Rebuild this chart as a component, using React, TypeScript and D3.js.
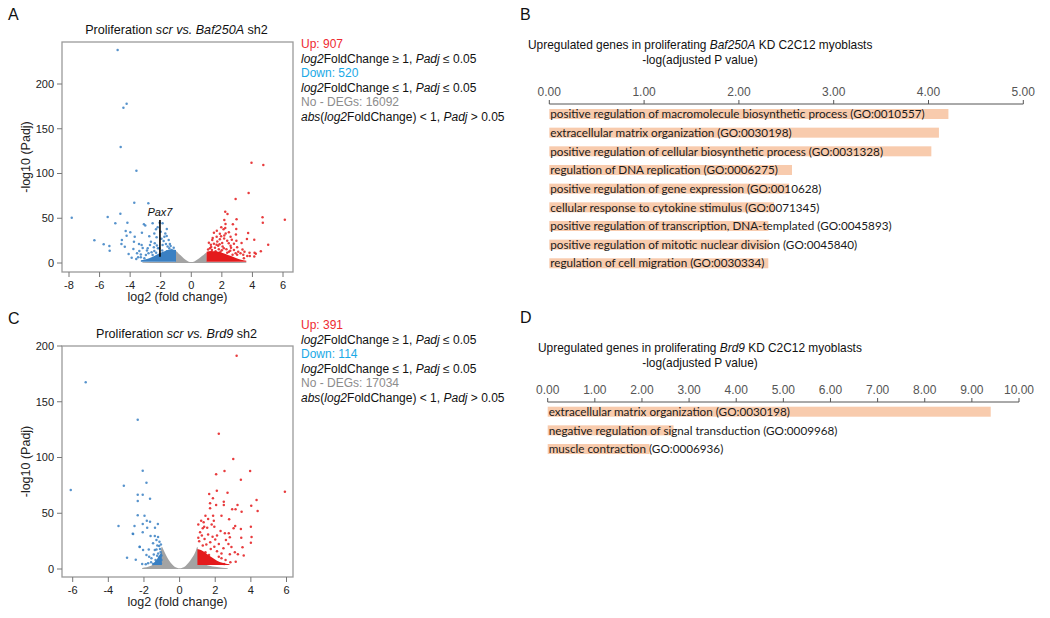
import * as d3 from 'd3'

const SANS = '"Liberation Sans", Arial, sans-serif'
const GO_FONT = 'Lato, "Open Sans", sans-serif'
const RED = '#e41a1c'
const BLUE = '#3a80c3'
const GREY = '#a3a3a3'
const BAR = '#f8cbad'

// ---- panel A: Baf250A sh2 volcano ----
const downA: [number, number][] = [
  [-4.82, 238], [-4.23, 178], [-4.44, 173.5], [-4.62, 129.6], [-3.59, 103], [-3.73, 67.4], [-2.81, 66.7],
  [-7.82, 50.6], [-5.47, 51.4], [-4.64, 55], [-4.97, 44.3], [-4.18, 45], [-3.1, 43.2], [-6.34, 25.3],
  [-5.73, 20.9], [-5.36, 19], [-5.34, 13.7], [-4.29, 35.8], [-4.23, 30.5], [-4.54, 25.7], [-4.35, 18.2],
  [-4.57, 21.2], [-3.99, 34.3], [-3.7, 29.4], [-3.75, 23.8], [-3.79, 15.6], [-3.42, 21.2], [-3.18, 16.7],
  [-3.48, 6.3], [-3.25, 20], [-3.01, 42], [-3.23, 33.9], [-3.4, 13.5], [-2.97, 8.9], [-3.3, 6.3],
  [-2.8, 10.8], [-2.64, 23.8], [-2.42, 33.1], [-2.53, 44.3], [-2.07, 45], [-1.88, 44.3], [-1.61, 30.1],
  [-1.76, 29.4], [-1.48, 25.7], [-2.27, 28.7], [-2.39, 22], [-2.85, 16.4], [-2.7, 20], [-2.18, 16.4],
  [-1.88, 20], [-1.66, 21.2], [-1.4, 21.2], [-1.44, 16.4], [-2.42, 13.5], [-2.53, 8.9], [-3.07, 5.2],
  [-2.31, 37.6], [-1.81, 24.5], [-2.1, 16.4], [-1.29, 14.5], [-1.55, 18.5], [-1.95, 27], [-2.25, 19.5],
  [-1.7, 33], [-2.0, 35], [-1.35, 19], [-1.15, 17], [-2.6, 12], [-2.9, 14], [-3.6, 4.5], [-3.9, 6],
  [-3.3, 9.5], [-2.75, 30], [-1.6, 38], [-2.2, 40], [-4.1, 10], [-3.55, 11], [-2.45, 17.5], [-1.9, 14],
  [-1.6, 13.2], [-2.3, 11.5],
]
const upA: [number, number][] = [
  [3.94, 112], [4.71, 109.5], [3.75, 78.2], [2.9, 71.5], [2.22, 57.3], [2.37, 54.7], [2.96, 48.8], [2.16, 48],
  [4.66, 51], [4.68, 45], [6.12, 48.4], [2.72, 43.2], [1.96, 39.9], [2.22, 39.1], [2.11, 37.6], [1.67, 36.1],
  [2.46, 34.3], [1.87, 32.8], [2.94, 38], [3.72, 33.5], [2.16, 30.7], [2.92, 31.8], [4.12, 26], [3.64, 26.8],
  [5.03, 20.5], [3.29, 22.3], [4.55, 13], [3.81, 11.5], [4.14, 11.5], [4.22, 10.4], [4.12, 7.4], [3.83, 7.8],
  [3.4, 9.3], [3.44, 5.2], [3.07, 12.7], [3.0, 9.3], [1.48, 33.9], [1.66, 29.4], [1.37, 25.7], [2.57, 29.4],
  [2.35, 25], [2.02, 22.3], [1.76, 19.3], [2.57, 19.3], [2.79, 21.6], [1.48, 21.6], [1.22, 16.4], [2.13, 16.4],
  [2.79, 14.5], [2.46, 12.7], [3.22, 10.8], [2.7, 9.3], [1.87, 26.4], [1.15, 22.7], [2.24, 43.5], [1.91, 12.7],
  [1.59, 13], [2.35, 11.5], [3.48, 12.7], [3.66, 7.8], [1.3, 18], [1.55, 17], [1.8, 15.5], [2.05, 18.5],
  [2.3, 15.5], [1.4, 28], [1.7, 24], [2.45, 22], [2.65, 26], [1.1, 15], [1.95, 30], [2.25, 33], [2.6, 17],
  [3.0, 17.5], [1.35, 14.5], [2.9, 11], [1.65, 20.5], [2.15, 27.5], [2.95, 25], [3.35, 15], [2.0, 14.2],
  [1.85, 21], [1.28, 20.5], [2.55, 13.8],
]
// upper edge of the densely packed point clouds: [log2FC, -log10 padj]
const greyCloudA: [number, number][] = [
  [-3.2, 0.8], [-2.0, 1.3], [-1.03, 1.5], [-1.0, 13], [-0.8, 10], [-0.6, 7], [-0.4, 4], [-0.2, 1.8],
  [0, 1], [0.2, 1.8], [0.4, 4], [0.6, 6.5], [0.8, 9], [1.0, 11.5], [1.03, 1.5], [2.6, 1.3], [3.6, 0.8],
]
const downDenseA: [number, number][] = [
  [-3.3, 3], [-2.9, 4.5], [-2.6, 6.5], [-2.3, 9], [-2.0, 11.5], [-1.7, 13.5], [-1.4, 15], [-1.2, 15], [-1.0, 14.5],
]
const upDenseA: [number, number][] = [
  [1.0, 12.5], [1.3, 13.5], [1.6, 13], [2.0, 11.5], [2.4, 9], [2.8, 6.5], [3.2, 4], [3.6, 2.5],
]
const pax7: [number, number, number] = [-2.05, 7, 48]

// ---- panel C: Brd9 sh2 volcano ----
const downC: [number, number][] = [
  [-5.27, 167.4], [-6.11, 70.8], [-2.35, 133.9], [-2.07, 88.2], [-3.13, 74.7], [-1.86, 77.4], [-2.35, 66.6],
  [-2.07, 66.6], [-2.35, 61], [-1.66, 63], [-2.35, 48.1], [-1.97, 47.8], [-3.43, 38.6], [-2.53, 38.6],
  [-2.07, 40.4], [-1.84, 43.3], [-1.66, 42.3], [-1.22, 40.4], [-1.82, 37], [-1.38, 37], [-2.63, 31.7],
  [-2.07, 32.9], [-1.63, 29.6], [-2.24, 19.7], [-1.73, 17.6], [-2.46, 8.3], [-2.95, 10.1], [-2.61, 31.4],
  [-2.24, 20], [-2.05, 17], [-1.71, 11], [-1.49, 23], [-1.3, 26], [-1.39, 29.6], [-1.21, 28.7],
  [-1.15, 20.6], [-1.39, 17], [-1.86, 12.6], [-1.58, 9.6], [-1.3, 6.6], [-1.02, 8], [-1.07, 15.2],
  [-1.77, 5.1], [-1.49, 4.5], [-1.26, 11.9], [-1.13, 24.5], [-1.02, 12], [-1.1, 18], [-1.2, 14],
  [-1.05, 5], [-1.35, 8], [-1.15, 10], [-1.45, 13], [-1.25, 21], [-1.6, 6], [-2.1, 4.5], [-1.9, 4.2],
  [-1.05, 22], [-1.3, 17.5],
]
const upC: [number, number][] = [
  [3.2, 191.3], [2.2, 121.4], [3.01, 98.7], [2.05, 84.9], [2.52, 87.9], [3.96, 87.9], [3.44, 80.1], [5.91, 69.3],
  [1.66, 67.3], [2.09, 70.2], [2.69, 68.4], [4.32, 61.9], [1.87, 63.4], [2.48, 60.4], [2.48, 57.4], [1.71, 58.9],
  [2.05, 57.4], [3.25, 57.4], [4.02, 56.8], [4.38, 52], [3.48, 51.4], [3.14, 53.5], [2.95, 53.5], [1.71, 54.4],
  [1.45, 47.8], [1.88, 47.8], [2.35, 47.8], [2.78, 44.6], [1.21, 43.3], [1.6, 44.8], [1.92, 43.3], [1.38, 38],
  [1.55, 37], [1.3, 36.5], [1.8, 40], [1.95, 38], [3.12, 38.6], [3.03, 36.5], [3.44, 35.9], [4.0, 38],
  [2.76, 32], [2.82, 28.4], [2.54, 32], [3.46, 28.1], [4.04, 28.7], [4.0, 23.6], [3.53, 19.5], [3.27, 13.2],
  [2.82, 13.2], [2.58, 8], [2.35, 9.6], [2.91, 19.7], [2.46, 18.5], [2.74, 22.4], [2.0, 26.5], [2.2, 22.4],
  [1.72, 24], [1.25, 30], [1.4, 27], [1.1, 25], [1.6, 31], [1.85, 29], [1.5, 22], [1.3, 21], [1.75, 18],
  [2.1, 16], [2.35, 14], [1.15, 33], [1.45, 15], [1.95, 20], [2.6, 26], [2.3, 34], [2.1, 30], [3.1, 15],
  [3.6, 12], [2.85, 6], [3.15, 6.5], [2.5, 4.5], [1.05, 28], [1.65, 12.5], [2.2, 11], [1.35, 42], [1.05, 40],
]
const greyCloudC: [number, number][] = [
  [-2.1, 1], [-1.6, 3], [-1.3, 5.5], [-1.1, 11], [-1.0, 20], [-0.9, 17], [-0.7, 10.5], [-0.5, 5.5], [-0.3, 2.2],
  [0, 0.6], [0.3, 2.2], [0.5, 5.5], [0.7, 10], [0.9, 16], [1.0, 20], [1.1, 6], [1.6, 3.2], [2.1, 1.8], [2.7, 0.6],
]
const downDenseC: [number, number][] = [[-1.5, 5], [-1.3, 8], [-1.15, 12], [-1.0, 15]]
const upDenseC: [number, number][] = [
  [1.0, 18], [1.2, 17], [1.5, 14], [1.8, 10.5], [2.1, 7.5], [2.4, 5.5], [2.8, 4.2],
]

// ---- GO enrichment bars ----
const termsB = [
  'positive regulation of macromolecule biosynthetic process (GO:0010557)',
  'extracellular matrix organization (GO:0030198)',
  'positive regulation of cellular biosynthetic process (GO:0031328)',
  'regulation of DNA replication (GO:0006275)',
  'positive regulation of gene expression (GO:0010628)',
  'cellular response to cytokine stimulus (GO:0071345)',
  'positive regulation of transcription, DNA-templated (GO:0045893)',
  'positive regulation of mitotic nuclear division (GO:0045840)',
  'regulation of cell migration (GO:0030334)',
]
const valuesB = [4.21, 4.11, 4.03, 2.56, 2.53, 2.37, 2.31, 2.32, 2.31]
const ticksB = [0, 1, 2, 3, 4, 5]

const termsD = [
  'extracellular matrix organization (GO:0030198)',
  'negative regulation of signal transduction (GO:0009968)',
  'muscle contraction (GO:0006936)',
]
const valuesD = [9.4, 2.67, 2.16]
const ticksD = [0, 1, 2, 3, 4, 5, 6, 7, 8, 9, 10]

type Pt = [number, number]
type Part = { t: string; i?: boolean }

const Parts = ({ parts }: { parts: Part[] }) => (
  <>
    {parts.map((p, k) => (
      <tspan key={k} fontStyle={p.i ? 'italic' : 'normal'}>{p.t}</tspan>
    ))}
  </>
)

interface VolcanoProps {
  label: string
  title: Part[]
  box: { x0: number; x1: number; y0: number; y1: number }
  xDomain: [number, number]
  xRange: [number, number]
  yRange: [number, number]
  xTicks: number[]
  up: Pt[]
  down: Pt[]
  grey: Pt[]
  upDense: Pt[]
  downDense: Pt[]
  denseBase: number
  counts: [number, number, number]
  legendTop: number
  marker?: [number, number, number]
}

const Volcano = (p: VolcanoProps) => {
  const { box } = p
  const x = d3.scaleLinear().domain(p.xDomain).range(p.xRange)
  const y = d3.scaleLinear().domain([0, 200]).range(p.yRange)
  const yTicks = [0, 50, 100, 150, 200]
  const area = (base: number) =>
    d3.area<Pt>().x(d => x(d[0])).y0(y(base)).y1(d => y(d[1])).curve(d3.curveMonotoneX)
  const cx = (box.x0 + box.x1) / 2
  const cy = (box.y0 + box.y1) / 2
  const legend: { parts: Part[]; color: string }[] = [
    { parts: [{ t: `Up: ${p.counts[0]}` }], color: '#ee2a31' },
    { parts: [{ t: 'log2', i: true }, { t: 'FoldChange ≥ 1, ' }, { t: 'Padj', i: true }, { t: ' ≤ 0.05' }], color: '#111' },
    { parts: [{ t: `Down: ${p.counts[1]}` }], color: '#1aa9e6' },
    { parts: [{ t: 'log2', i: true }, { t: 'FoldChange ≤ 1, ' }, { t: 'Padj', i: true }, { t: ' ≤ 0.05' }], color: '#111' },
    { parts: [{ t: `No - DEGs: ${p.counts[2]}` }], color: '#8c8c8c' },
    { parts: [{ t: 'abs', i: true }, { t: '(' }, { t: 'log2', i: true }, { t: 'FoldChange) < 1, ' }, { t: 'Padj', i: true }, { t: ' > 0.05' }], color: '#111' },
  ]
  return (
    <g fontFamily={SANS}>
      <text x={8} y={box.y0 - 22} fontSize={16} fill="#111">{p.label}</text>
      <text x={cx - 1} y={box.y0 - 8} fontSize={12.6} textAnchor="middle" fill="#111">
        <Parts parts={p.title} />
      </text>
      <path d={area(0)(p.grey) ?? ''} fill={GREY} />
      <path d={area(p.denseBase)(p.downDense) ?? ''} fill={BLUE} />
      <path d={area(p.denseBase)(p.upDense) ?? ''} fill={RED} />
      {p.down.map((d, k) => (
        <circle key={`d${k}`} cx={x(d[0])} cy={y(d[1])} r={1.25} fill={BLUE} opacity={0.85} />
      ))}
      {p.up.map((d, k) => (
        <circle key={`u${k}`} cx={x(d[0])} cy={y(d[1])} r={1.25} fill={RED} opacity={0.85} />
      ))}
      {p.marker && (
        <g>
          <line x1={x(p.marker[0])} x2={x(p.marker[0])} y1={y(p.marker[1])} y2={y(p.marker[2])} stroke="#000" strokeWidth={1.6} />
          <text x={x(p.marker[0])} y={y(p.marker[2]) - 4} fontSize={11} fontStyle="italic" textAnchor="middle" fill="#111">Pax7</text>
        </g>
      )}
      <rect x={box.x0} y={box.y0} width={box.x1 - box.x0} height={box.y1 - box.y0} fill="none" stroke="#9a9a9a" strokeWidth={1.3} />
      {p.xTicks.map(t => (
        <g key={`x${t}`}>
          <line x1={x(t)} x2={x(t)} y1={box.y1} y2={box.y1 + 5} stroke="#777" />
          <text x={x(t)} y={box.y1 + 17} fontSize={11} textAnchor="middle" fill="#222">{t}</text>
        </g>
      ))}
      {yTicks.map(t => (
        <g key={`y${t}`}>
          <line x1={box.x0 - 5} x2={box.x0} y1={y(t)} y2={y(t)} stroke="#777" />
          <text x={box.x0 - 8} y={y(t)} dy="0.35em" fontSize={11} textAnchor="end" fill="#222">{t}</text>
        </g>
      ))}
      <text x={cx} y={box.y1 + 29} fontSize={12.5} textAnchor="middle" fill="#222">log2 (fold change)</text>
      <text transform={`translate(30,${cy}) rotate(-90)`} fontSize={12.5} textAnchor="middle" fill="#222">-log10 (Padj)</text>
      {legend.map((l, k) => (
        <text key={`l${k}`} x={301} y={p.legendTop + k * 14.5} fontSize={12} fill={l.color}>
          <Parts parts={l.parts} />
        </text>
      ))}
    </g>
  )
}

interface GoProps {
  label: string
  gene: string
  top: number
  titleX: number
  axisY: number
  xRange: [number, number]
  ticks: number[]
  terms: string[]
  values: number[]
  bandTop: number
}

const GoBars = (p: GoProps) => {
  const x = d3.scaleLinear().domain([p.ticks[0], p.ticks[p.ticks.length - 1]]).range(p.xRange)
  const pad = 0.464
  const step = 18.66
  const yb = d3.scaleBand<string>()
    .domain(p.terms)
    .range([p.bandTop, p.bandTop + step * (p.terms.length - pad)])
    .paddingInner(pad)
    .paddingOuter(0)
  return (
    <g fontFamily={SANS}>
      <text x={520} y={p.top} fontSize={16} fill="#111">{p.label}</text>
      <text x={p.titleX} y={p.top + 29} fontSize={11.9} fill="#111">
        Upregulated genes in proliferating <tspan fontStyle="italic">{p.gene}</tspan> KD C2C12 myoblasts
      </text>
      <text x={700} y={p.top + 44} fontSize={11.9} textAnchor="middle" fill="#111">-log(adjusted P value)</text>
      <line x1={p.xRange[0]} x2={p.xRange[1]} y1={p.axisY} y2={p.axisY} stroke="#555" />
      {p.ticks.map(t => (
        <g key={t}>
          <line x1={x(t)} x2={x(t)} y1={p.axisY - 4} y2={p.axisY} stroke="#555" />
          <text x={x(t)} y={p.axisY - 8} fontSize={12} textAnchor="middle" fill="#555">{t.toFixed(2)}</text>
        </g>
      ))}
      {p.terms.map((term, k) => (
        <g key={term}>
          <rect x={x(0)} y={yb(term)} width={x(p.values[k]) - x(0)} height={yb.bandwidth()} fill={BAR} />
          <text x={x(0) + 1} y={(yb(term) ?? 0) + yb.bandwidth() / 2} dy="0.36em" fontFamily={GO_FONT} fontSize={11.7} fill="#1a1a1a">
            {term}
          </text>
        </g>
      ))}
    </g>
  )
}

export default function App() {
  return (
    <div style={{ position: 'absolute', left: 0, top: 0 }}>
      <svg width={1050} height={618} style={{ display: 'block', background: '#fff' }}>
        <Volcano
          label="A"
          title={[{ t: 'Proliferation ' }, { t: 'scr vs. Baf250A', i: true }, { t: ' sh2' }]}
          box={{ x0: 62, x1: 293, y0: 42, y1: 272 }}
          xDomain={[-8, 6]}
          xRange={[69, 283]}
          yRange={[263, 84]}
          xTicks={[-8, -6, -4, -2, 0, 2, 4, 6]}
          up={upA}
          down={downA}
          grey={greyCloudA}
          upDense={upDenseA}
          downDense={downDenseA}
          denseBase={1.4}
          counts={[907, 520, 16092]}
          legendTop={48}
          marker={pax7}
        />
        <Volcano
          label="C"
          title={[{ t: 'Proliferation ' }, { t: 'scr vs. Brd9', i: true }, { t: ' sh2' }]}
          box={{ x0: 62, x1: 293, y0: 346, y1: 577 }}
          xDomain={[-6, 6]}
          xRange={[72.7, 286.5]}
          yRange={[569, 346]}
          xTicks={[-6, -4, -2, 0, 2, 4, 6]}
          up={upC}
          down={downC}
          grey={greyCloudC}
          upDense={upDenseC}
          downDense={downDenseC}
          denseBase={3.5}
          counts={[391, 114, 17034]}
          legendTop={329}
          marker={undefined}
        />
        <GoBars
          label="B"
          gene="Baf250A"
          top={20}
          titleX={528}
          axisY={104}
          xRange={[549.3, 1023.3]}
          ticks={ticksB}
          terms={termsB}
          values={valuesB}
          bandTop={109}
        />
        <GoBars
          label="D"
          gene="Brd9"
          top={323}
          titleX={538}
          axisY={402}
          xRange={[547.7, 1019]}
          ticks={ticksD}
          terms={termsD}
          values={valuesD}
          bandTop={406.7}
        />
      </svg>
    </div>
  )
}
